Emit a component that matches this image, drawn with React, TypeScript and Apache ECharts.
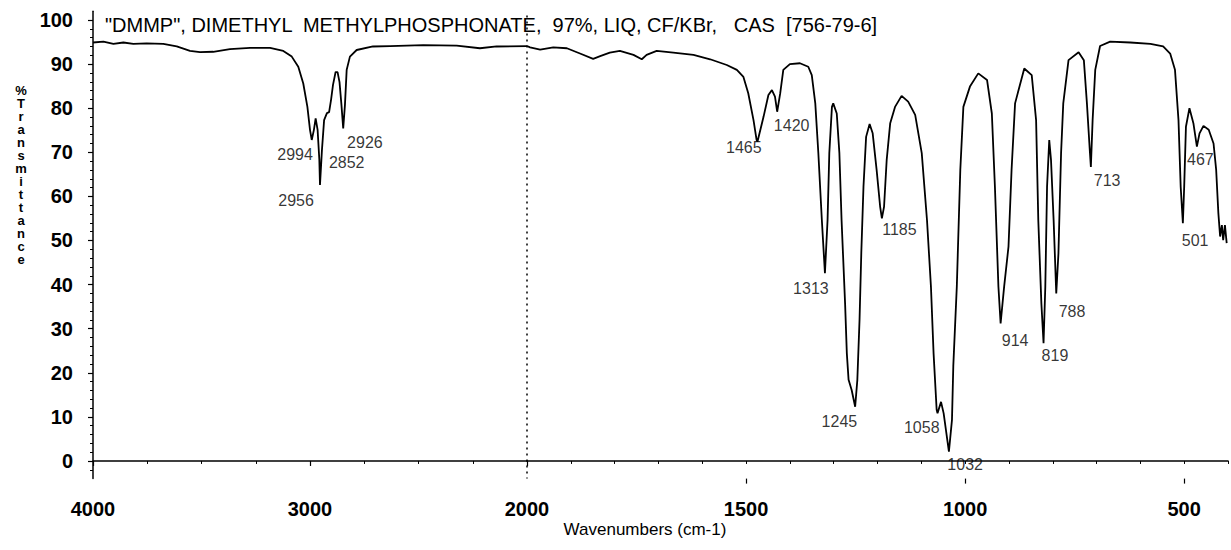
import React, { useEffect, useRef } from "react";
import * as echarts from "echarts";

// Spectrum, high-wavenumber part (4000 -> 2000 cm-1), [wavenumber, %T]
const spectrumHigh: number[][] = [
  [4000, 94.9], [3952, 95.1], [3906, 94.6], [3860, 94.9], [3814, 94.6], [3753, 94.7],
  [3676, 94.6], [3614, 94.0], [3553, 93.0], [3507, 92.7], [3446, 92.8], [3369, 93.4],
  [3276, 93.7], [3184, 93.7], [3123, 93.0], [3084, 91.7], [3054, 89.4], [3031, 85.6],
  [3012, 80.3], [3000, 75.1], [2992, 72.8], [2982, 75.1], [2974, 77.7], [2965, 75.1],
  [2957, 68.3], [2954, 62.6], [2945, 70.5], [2935, 77.3], [2922, 78.9], [2912, 79.1],
  [2903, 81.9], [2894, 85.3], [2882, 88.2], [2873, 88.2], [2864, 85.9], [2855, 80.7],
  [2847, 75.4], [2839, 80.7], [2831, 88.7], [2816, 91.7], [2785, 93.2], [2710, 94.0],
  [2631, 94.1], [2478, 94.3], [2324, 94.2], [2217, 93.6], [2140, 94.0], [2000, 94.1],
];

// Spectrum, low-wavenumber part (2000 -> 400 cm-1), [wavenumber, %T]
const spectrumLow: number[][] = [
  [2000, 94.1], [1993, 93.8], [1970, 93.3], [1940, 93.8], [1909, 93.6], [1879, 92.4],
  [1849, 91.2], [1833, 91.8], [1811, 92.6], [1788, 93.0], [1757, 92.1], [1738, 91.1],
  [1727, 92.1], [1704, 93.0], [1666, 92.6], [1620, 92.1], [1582, 91.1], [1544, 89.8],
  [1521, 88.7], [1506, 87.1], [1495, 83.4], [1483, 77.3], [1476, 72.8], [1474, 72.4],
  [1460, 78.1], [1449, 83.0], [1441, 84.1], [1434, 82.6], [1429, 79.2], [1422, 83.4],
  [1415, 88.7], [1400, 90.0], [1377, 90.2], [1358, 89.4], [1350, 87.5], [1342, 81.1],
  [1335, 69.8], [1327, 54.6], [1320, 42.6], [1314, 54.6], [1310, 69.8], [1304, 80.3],
  [1301, 81.1], [1293, 78.8], [1287, 69.8], [1282, 54.6], [1274, 35.8], [1270, 24.4],
  [1266, 18.4], [1259, 16.1], [1251, 12.3], [1246, 18.4], [1241, 32.0], [1237, 47.1],
  [1232, 62.2], [1226, 73.5], [1218, 76.4], [1211, 74.3], [1202, 66.0], [1194, 57.7],
  [1190, 55.0], [1185, 57.7], [1179, 68.3], [1171, 76.6], [1160, 80.3], [1145, 82.8],
  [1130, 81.5], [1114, 78.5], [1099, 69.8], [1087, 54.6], [1078, 39.5], [1072, 24.4],
  [1065, 11.6], [1063, 10.8], [1055, 13.4], [1049, 10.8], [1037, 2.1], [1030, 9.3],
  [1027, 21.5], [1019, 39.5], [1011, 66.0], [1004, 80.3], [989, 84.9], [970, 87.9],
  [950, 86.4], [939, 78.8], [932, 62.2], [924, 39.5], [919, 31.2], [911, 39.5],
  [901, 48.6], [894, 66.0], [886, 81.1], [865, 89.0], [848, 87.5], [838, 77.3],
  [833, 54.6], [826, 35.8], [821, 26.7], [817, 39.5], [813, 62.2], [808, 72.8],
  [804, 68.3], [798, 54.6], [792, 38.0], [787, 47.1], [781, 69.8], [776, 81.1],
  [764, 90.9], [741, 92.7], [729, 90.9], [722, 81.1], [716, 71.3], [713, 66.7],
  [709, 77.3], [703, 88.7], [692, 94.1], [669, 95.1], [623, 94.9], [577, 94.6],
  [548, 94.0], [532, 92.4], [521, 88.7], [513, 77.3], [508, 62.2], [503, 53.9],
  [500, 62.2], [496, 75.8], [488, 80.0], [479, 76.6], [471, 71.3], [465, 74.3],
  [456, 76.0], [444, 75.1], [433, 72.0], [427, 66.0], [422, 56.2], [418, 50.9],
  [414, 53.5], [411, 50.1], [407, 53.5], [403, 49.4],
];

// Peak annotations: [label anchor wavenumber, label anchor %T, text]
const peakLabelsHigh: (number | string)[][] = [
  [3069, 69.4, "2994"], [3064, 59.0, "2956"], [2831, 67.6, "2852"], [2747, 72.2, "2926"],
];
const peakLabelsLow: (number | string)[][] = [
  [1505, 71.2, "1465"], [1396, 76.0, "1420"], [1352, 39.2, "1313"], [1150, 52.4, "1185"],
  [1287, 8.9, "1245"], [1099, 7.6, "1058"], [1000, -0.9, "1032"], [886, 27.4, "914"],
  [795, 24.0, "819"], [756, 33.9, "788"], [676, 63.7, "713"], [475, 50.1, "501"],
  [463, 68.3, "467"],
];

// Axis ticks
const yMajorTicks = [0, 10, 20, 30, 40, 50, 60, 70, 80, 90, 100];
const yMinorTicks = [-2, 2, 4, 6, 8, 12, 14, 16, 18, 22, 24, 26, 28, 32, 34, 36, 38, 42, 44, 46, 48,
  52, 54, 56, 58, 62, 64, 66, 68, 72, 74, 76, 78, 82, 84, 86, 88, 92, 94, 96, 98];
const xLowMajorTicks = [500, 1000, 1500];

const TITLE = "\"DMMP\", DIMETHYL  METHYLPHOSPHONATE,  97%, LIQ, CF/KBr,   CAS  [756-79-6]";
const Y_NAME = "%Transmittance";
const X_NAME = "Wavenumbers (cm-1)";

const FONT = "'Liberation Sans', Arial, Helvetica, sans-serif";
const INK = "#000";

export default function App() {
  const ref = useRef<HTMLDivElement>(null);

  useEffect(() => {
    if (!ref.current) return;
    const chart = echarts.init(ref.current, null, { renderer: "svg" });
    const gridTop = 11.2;
    const gridH = 467.4;
    const axisLine = { show: true, lineStyle: { color: INK, width: 1.5 } };
    const labelStyle = { color: INK, fontSize: 20, fontWeight: "bold", fontFamily: FONT };
    const labelSeries = (rows: (number | string)[][], xi: number, yi: number) => ({
      type: "scatter",
      xAxisIndex: xi,
      yAxisIndex: yi,
      symbolSize: 1,
      itemStyle: { color: "rgba(0,0,0,0)" },
      silent: true,
      data: rows.map((r) => ({ value: [r[0], r[1]], name: String(r[2]) })),
      label: {
        show: true,
        position: "inside",
        formatter: (p: any) => p.name,
        color: INK,
        fontSize: 16,
        fontFamily: FONT,
      },
      z: 5,
    });

    chart.setOption({
      animation: false,
      backgroundColor: "#fff",
      grid: [
        { left: 93, top: gridTop, width: 434, height: gridH },
        { left: 527, top: gridTop, width: 701, height: gridH },
      ],
      xAxis: [
        {
          type: "value", gridIndex: 0, position: "bottom", min: 2000, max: 4000, interval: 1000, inverse: true,
          axisLine, splitLine: { show: false },
          axisTick: { show: true, length: 5, lineStyle: { color: INK, width: 1.2 } },
          minorTick: { show: true, splitNumber: 4, length: 3, lineStyle: { color: INK, width: 1 } },
          axisLabel: { ...labelStyle, margin: 20, formatter: (v: number) => String(v) },
        },
        {
          type: "value", gridIndex: 1, position: "bottom", min: 400, max: 2000, interval: 100, inverse: true,
          axisLine, splitLine: { show: false },
          axisTick: { show: true, length: 3, lineStyle: { color: INK, width: 1 } },
          axisLabel: {
            ...labelStyle, margin: 20, interval: 0,
            formatter: (v: number) => (xLowMajorTicks.indexOf(v) >= 0 ? String(v) : ""),
          },
        },
        {
          type: "value", gridIndex: 1, position: "bottom", offset: 0, min: 400, max: 2000, inverse: true,
          axisLine: { show: false }, splitLine: { show: false },
          axisTick: { show: true, length: 5, customValues: xLowMajorTicks, lineStyle: { color: INK, width: 1.2 } },
          axisLabel: { show: false },
        },
      ],
      yAxis: [
        {
          type: "value", gridIndex: 0, position: "left", min: -4, max: 102,
          axisLine, splitLine: { show: false },
          axisTick: { show: true, length: 5, customValues: yMajorTicks, lineStyle: { color: INK, width: 1.2 } },
          axisLabel: { ...labelStyle, margin: 20, customValues: yMajorTicks },
        },
        {
          type: "value", gridIndex: 0, position: "left", offset: 0, min: -4, max: 102,
          axisLine: { show: false }, splitLine: { show: false },
          axisTick: { show: true, length: 3, customValues: yMinorTicks, lineStyle: { color: INK, width: 1 } },
          axisLabel: { show: false },
        },
        {
          type: "value", gridIndex: 1, min: -4, max: 102, show: false,
          splitLine: { show: false },
        },
      ],
      series: [
        {
          type: "line", xAxisIndex: 0, yAxisIndex: 0, data: spectrumHigh,
          symbol: "none", lineStyle: { color: INK, width: 1.8 }, silent: true,
        },
        {
          type: "line", xAxisIndex: 1, yAxisIndex: 2, data: spectrumLow,
          symbol: "none", lineStyle: { color: INK, width: 1.8 }, silent: true,
          markLine: {
            silent: true, symbol: "none", label: { show: false },
            lineStyle: { color: INK, width: 1.5, type: [2, 4] },
            data: [[{ coord: [2000, 101] }, { coord: [2000, -4] }]],
          },
        },
        labelSeries(peakLabelsHigh, 0, 0),
        labelSeries(peakLabelsLow, 1, 2),
      ],
      graphic: [
        {
          type: "text", left: 105, top: 15,
          style: { text: TITLE, fill: INK, fontSize: 20, fontFamily: FONT },
        },
        {
          type: "text", x: 21, y: 84,
          style: {
            text: Y_NAME.split("").join("\n"), fill: INK, fontSize: 13, fontWeight: "bold",
            fontFamily: FONT, lineHeight: 13, align: "center", verticalAlign: "top",
          },
        },
        {
          type: "text", x: 645, y: 529,
          style: {
            text: X_NAME, fill: INK, fontSize: 17, fontFamily: FONT,
            align: "center", verticalAlign: "middle",
          },
        },
      ],
    });
    return () => chart.dispose();
  }, []);

  return (
    <div
      ref={ref}
      style={{ position: "absolute", left: 0, top: 0, width: 1231, height: 550 }}
    />
  );
}
